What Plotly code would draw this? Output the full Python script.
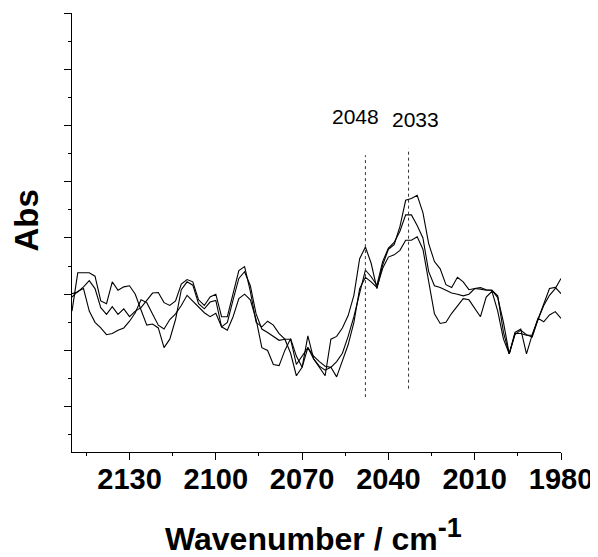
import plotly.graph_objects as go

wavenumber = list(range(2150, 1979, -2))

abs_a = [0.01, 0.04, 0.13, 0.24, 0.10, -0.24, -0.36, -0.22, -0.36, -0.26,
         -0.40, -0.30, -0.24, -0.12, 0.02, 0.03, -0.15, -0.20, -0.12, 0.18,
         0.26, 0.22, -0.10, -0.20, -0.05, 0.00, -0.40, -0.40, 0.02, 0.42,
         0.49, 0.05, -0.50, -0.58, -0.48, -0.55, -0.70, -0.80, -1.05, -1.45,
         -1.30, -0.95, -1.15, -1.30, -1.45, -0.80, -0.75, -0.60, -0.38, -0.02,
         0.63, 0.84, 0.55, 0.10, 0.52, 0.80, 0.88, 1.20, 1.67, 1.70,
         1.76, 1.45, 0.90, 0.58, 0.45, 0.17, 0.12, 0.30, 0.22, 0.08,
         0.10, 0.09, 0.07, 0.07, -0.06, -0.50, -1.06, -0.68, -0.62, -1.06,
         -0.72, -0.45, -0.17, 0.10, 0.12, 0.01]

abs_b = [-0.30, 0.38, 0.38, 0.38, 0.32, -0.12, -0.17, 0.22, 0.07, 0.13,
         0.15, 0.00, -0.28, -0.55, -0.53, -0.60, -0.95, -0.80, -0.45, 0.08,
         0.22, 0.16, -0.17, -0.26, -0.14, -0.11, -0.58, -0.50, -0.10, 0.28,
         0.40, 0.15, -0.35, -0.62, -0.68, -0.75, -0.82, -0.80, -0.80, -1.25,
         -1.10, -0.95, -1.10, -1.20, -1.28, -1.30, -1.20, -1.05, -0.75, -0.40,
         0.02, 0.43, 0.31, 0.16, 0.58, 0.82, 0.92, 1.12, 1.41, 1.41,
         1.22, 1.00, 0.40, 0.15, 0.12, 0.07, 0.02, 0.00, -0.03, 0.00,
         0.10, 0.12, 0.08, 0.07, -0.03, -0.68, -1.06, -0.72, -0.64, -0.72,
         -0.76, -0.45, -0.20, -0.02, 0.10, 0.28]

abs_c = [-0.05, 0.05, 0.10, -0.30, -0.50, -0.60, -0.72, -0.70, -0.64, -0.60,
         -0.48, -0.33, -0.10, -0.15, -0.35, -0.55, -0.62, -0.45, -0.35, -0.20,
         -0.02, -0.12, -0.22, -0.33, -0.40, -0.34, -0.58, -0.64, -0.40, -0.08,
         0.00, -0.10, -0.45, -0.95, -1.00, -1.25, -1.27, -1.00, -0.79, -1.10,
         -1.30, -0.74, -1.15, -1.28, -1.35, -1.30, -1.47, -1.20, -0.90, -0.50,
         0.10, 0.30, 0.22, 0.12, 0.46, 0.66, 0.70, 0.78, 0.96, 0.96,
         1.02, 0.80, 0.20, -0.35, -0.52, -0.50, -0.34, -0.20, -0.08, -0.10,
         -0.25, -0.40, -0.05, 0.05, -0.30, -0.80, -1.06, -0.70, -0.70, -0.73,
         -0.73, -0.43, -0.49, -0.37, -0.31, -0.43]

peak_positions = [2048, 2033]
peak_labels = ["2048", "2033"]
peak_line_top = [2.47, 2.59]
peak_line_bottom = [-1.83, -1.68]
peak_label_x = [2051.5, 2030.7]
peak_label_y = [3.16, 3.10]

x_tick_vals = [2130, 2100, 2070, 2040, 2010, 1980]
x_tick_text = ["2130", "2100", "2070", "2040", "2010", "1980"]

FONT = "Liberation Sans, Arial, sans-serif"

fig = go.Figure()
for ys in (abs_a, abs_b, abs_c):
    fig.add_trace(go.Scatter(x=wavenumber, y=ys, mode="lines",
                             line=dict(color="black", width=1.1),
                             showlegend=False, hoverinfo="skip"))

for px, top, bot in zip(peak_positions, peak_line_top, peak_line_bottom):
    fig.add_trace(go.Scatter(x=[px, px], y=[bot, top], mode="lines",
                             line=dict(color="#333333", width=1, dash="dot"),
                             showlegend=False, hoverinfo="skip"))

for lx, ly, txt in zip(peak_label_x, peak_label_y, peak_labels):
    fig.add_annotation(x=lx, y=ly, text=txt, showarrow=False,
                       xanchor="center", yanchor="middle",
                       font=dict(family=FONT, size=21, color="black"))

fig.add_annotation(xref="paper", yref="paper", x=-0.093, y=0.526,
                   text="Abs", textangle=-90, showarrow=False,
                   xanchor="center", yanchor="middle",
                   font=dict(family=FONT, size=33, color="black", weight="bold"))

fig.add_annotation(xref="paper", yref="paper", x=0.494, y=-0.19,
                   text="Wavenumber / cm<sup><span style=\"font-size:27px\">-1</span></sup>",
                   showarrow=False, xanchor="center", yanchor="middle",
                   font=dict(family=FONT, size=32, color="black", weight="bold"))

fig.update_xaxes(range=[2150, 1980], showgrid=False, zeroline=False,
                 showline=True, linecolor="black", linewidth=1.3,
                 ticks="outside", ticklen=7, tickwidth=1.3, tickcolor="black",
                 tickvals=x_tick_vals, ticktext=x_tick_text,
                 ticklabeloverflow="allow", ticklabelstandoff=-6,
                 tickfont=dict(family=FONT, size=29, color="black", weight="bold"),
                 minor=dict(dtick=15, tick0=1980, ticks="outside", ticklen=3,
                            tickwidth=1.3, tickcolor="black"))
fig.update_yaxes(range=[-2.806, 5.0], showgrid=False, zeroline=False,
                 showline=True, linecolor="black", linewidth=1.3,
                 ticks="outside", ticklen=7, tickwidth=1.3, tickcolor="black",
                 dtick=1, tick0=0, showticklabels=False,
                 minor=dict(dtick=0.5, tick0=0, ticks="outside", ticklen=3,
                            tickwidth=1.3, tickcolor="black"))

# the page body has an 8px default margin, so the figure is 8px smaller
fig.update_layout(width=590, height=549,
                  margin=dict(l=64, r=34, t=5, b=105),
                  paper_bgcolor="white", plot_bgcolor="white")

fig.write_html("out.html")
